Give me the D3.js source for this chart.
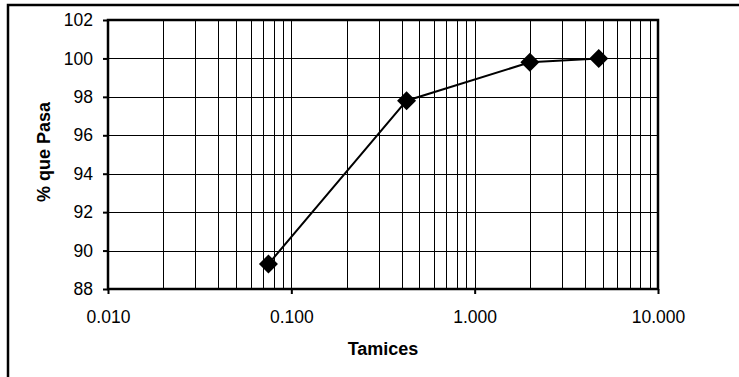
<!DOCTYPE html>
<html>
<head>
<meta charset="utf-8">
<script src="https://cdn.jsdelivr.net/npm/d3@7"></script>
<style>
  body { margin: 0; background: #fff; }
  svg { display: block; font-family: "Liberation Sans", Arial, sans-serif; }
  .axis path { display: none; }
  .grid path { display: none; }
  .grid line { stroke: #000; stroke-width: 1; shape-rendering: crispEdges; }
</style>
</head>
<body>
<div id="chart"></div>
<script>
// tamiz (mm) y porcentaje que pasa
const tamices = [0.075, 0.425, 2.0, 4.75];
const pasa = [89.3, 97.8, 99.8, 100.0];
const xTicks = [0.01, 0.1, 1, 10];
const yTicks = [88, 90, 92, 94, 96, 98, 100, 102];

const w = 739, h = 377;
const margin = { left: 108, top: 20, right: 81, bottom: 88 };
const pw = w - margin.left - margin.right;
const ph = h - margin.top - margin.bottom;

const svg = d3.select('#chart')
              .append('svg')
              .attr('width', w)
              .attr('height', h);

// marco exterior
svg.append('rect')
   .attr('x', 8)
   .attr('y', 5)
   .attr('width', w + 20)
   .attr('height', h + 20)
   .attr('fill', 'none')
   .attr('stroke', '#000')
   .attr('stroke-width', 2.5);

const g = svg.append('g')
             .attr('transform', `translate(${margin.left}, ${margin.top})`);

const xScale = d3.scaleLog()
                 .domain([0.01, 10])
                 .range([0, pw]);

const yScale = d3.scaleLinear()
                 .domain([88, 102])
                 .range([ph, 0]);

// lineas menores 1..9 por decada
const minor = [];
xTicks.slice(0, -1).forEach(d => {
  for (let k = 1; k <= 9; k++) minor.push(d * k);
});

g.append('g')
 .attr('class', 'grid')
 .attr('transform', `translate(0, ${ph})`)
 .call(d3.axisBottom(xScale).tickValues(minor).tickSize(-ph).tickFormat(''));

g.append('g')
 .attr('class', 'grid')
 .call(d3.axisLeft(yScale).tickValues(yTicks).tickSize(-pw).tickFormat(''));

// ejes
const xAxis = g.append('g')
   .attr('class', 'axis')
   .attr('transform', `translate(0, ${ph})`)
   .call(d3.axisBottom(xScale).tickValues(xTicks).tickSize(5).tickPadding(17)
           .tickFormat(d3.format('.3f')));

const yAxis = g.append('g')
   .attr('class', 'axis')
   .call(d3.axisLeft(yScale).tickValues(yTicks).tickSize(5).tickPadding(10));

[xAxis, yAxis].forEach(a => {
  a.selectAll('line').attr('stroke', '#000').attr('stroke-width', 2);
  a.selectAll('text')
   .attr('fill', '#000')
   .style('font-size', '17.5px')
   .style('font-family', '"Liberation Sans", Arial, sans-serif');
});

g.append('rect')
 .attr('width', pw)
 .attr('height', ph)
 .attr('fill', 'none')
 .attr('stroke', '#000')
 .attr('stroke-width', 2.5);

// curva
const data = tamices.map((d, i) => [d, pasa[i]]);

g.append('path')
 .datum(data)
 .attr('fill', 'none')
 .attr('stroke', '#000')
 .attr('stroke-width', 2)
 .attr('d', d3.line().x(d => xScale(d[0])).y(d => yScale(d[1])));

g.selectAll('.marker')
 .data(data)
 .enter()
 .append('path')
 .attr('class', 'marker')
 .attr('transform', d => `translate(${xScale(d[0])}, ${yScale(d[1])})`)
 .attr('d', 'M0,-9.5L9.5,0L0,9.5L-9.5,0Z')
 .attr('fill', '#000');

// titulos
svg.append('text')
   .attr('x', margin.left + pw / 2)
   .attr('y', 355)
   .attr('text-anchor', 'middle')
   .style('font-size', '18px')
   .style('font-weight', 'bold')
   .text('Tamices');

svg.append('text')
   .attr('transform', `translate(50, 152) rotate(-90)`)
   .attr('text-anchor', 'middle')
   .style('font-size', '18px')
   .style('font-weight', 'bold')
   .text('% que Pasa');
</script>
</body>
</html>
